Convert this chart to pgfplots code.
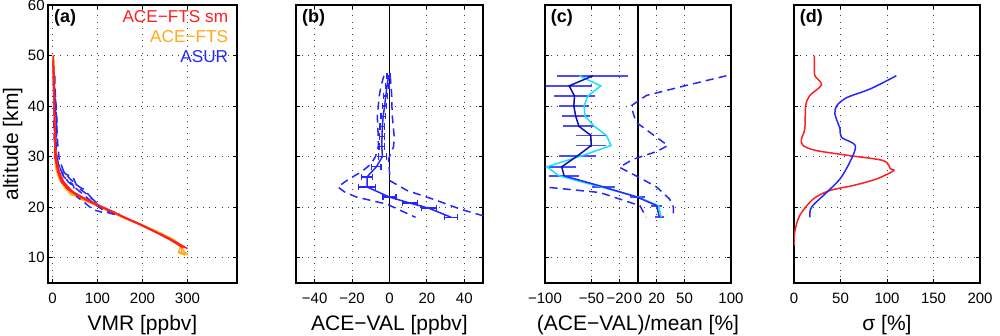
\documentclass[border=0pt]{standalone}
\usepackage{pgfplots}
\pgfplotsset{compat=1.18}
\usepackage{fontspec}
\setmainfont{Liberation Sans}
\definecolor{mred}{rgb}{1,0.12,0.12}
\definecolor{morange}{rgb}{1,0.66,0.1}
\definecolor{mblue}{rgb}{0.15,0.15,1}
\definecolor{mbar}{rgb}{0.3,0.3,1}
\definecolor{mnavy}{rgb}{0.05,0.05,0.72}
\definecolor{mcyan}{rgb}{0.1,0.88,1}
\tikzset{
  plabel/.style={anchor=north west, inner sep=0pt, font=\fontsize{9}{10}\selectfont\bfseries},
  dsh/.style={dash pattern=on 4pt off 2.6pt},
}
\pgfplotsset{
  panel/.style={
    scale only axis, height=139pt, anchor=south west,
    ymin=5, ymax=60, ytick={10,20,...,60},
    grid=major, major grid style={black!75, line width=0.45pt, dash pattern=on 0.5pt off 2.6pt},
    axis line style={line width=0.9pt},
    tick style={black, line width=0.5pt}, major tick length=2pt, tick align=inside,
    tick label style={font=\fontsize{7.5}{9}\selectfont, /pgf/number format/assume math mode=true},
    xticklabel style={anchor=base, yshift=-10.5pt},
    yticklabel style={inner sep=1.5pt},
    label style={font=\fontsize{10.5}{12}\selectfont},
    xlabel style={at={(axis description cs:0.5,-0.15)}, anchor=center},
    every axis plot/.append style={line width=0.75pt},
    unbounded coords=jump,
  },
}
\begin{document}
\begin{tikzpicture}
\useasboundingbox (0,0) rectangle (500pt,168pt);
% ---------------- (a)
\begin{axis}[panel, at={(24pt,26.5pt)}, width=94.5pt,
  xmin=-10, xmax=410, xtick={0,100,200,300},
  xlabel={VMR [ppbv]}, ylabel={altitude [km]},
  ylabel style={at={(axis description cs:-0.158,0.5)}, anchor=base}]
\addplot[morange] coordinates {(2,50) (3,46) (4,42) (6,38) (7,34) (5,30) (8,27.5) (15,25.5) (30,23.5) (55,22) (85,20.8) (120,19.5) (150,18.2) (185,17) (215,15.7) (245,14.4) (275,13.2) (290,11.5) (300,10.5)};
\addplot[morange] coordinates {(3,49) (4,45) (5,40) (6,36) (8,32) (10,29) (14,26) (25,24.3) (40,23) (65,21.5) (95,20.5) (125,19.2) (160,17.8) (195,16.7) (230,15.3) (265,13.8) (285,12.5) (280,11) (295,10.5)};
\addplot[morange] coordinates {(1,50) (3,44) (6,39) (8,35) (4,31) (12,27.8) (22,25) (40,22.5) (60,22) (90,21) (110,19.8) (145,18.5) (175,17.3) (210,16) (240,14.8) (270,13.5) (290,12) (285,11) (300,10.8)};
\addplot[mblue, dsh] coordinates {(5,46) (6,43) (8,40) (10,37) (9,34) (8,31) (12,29) (20,27) (35,25) (55,23.5) (75,22) (95,20.5) (120,19) (140,18.5)};
\addplot[mblue, dsh] coordinates {(3,45) (5,42) (7,39) (9,36) (7,33) (6,30) (15,28) (30,26.5) (45,26) (55,24) (70,23) (90,21.5) (110,20)};
\addplot[mblue, dsh] coordinates {(4,44) (7,41) (8,38) (10,35) (12,32) (15,29.5) (25,27) (40,25.5) (60,24) (70,23.5) (85,22) (100,20.5) (125,19.2) (150,18.8)};
\addplot[mblue, dsh] coordinates {(2,45) (4,41) (3,37) (4,33) (8,30) (15,28) (25,26) (45,24.5) (55,22) (70,21) (90,19.5) (110,19)};
\addplot[mred] coordinates {(2,50) (2,46) (3,42) (4,38) (5,34) (6,31) (8,29) (12,27) (20,25) (35,23.5) (55,22.3) (80,21.2) (110,20) (140,18.8) (170,17.5) (200,16.3) (230,15) (260,13.6) (290,12)};
\addplot[mred] coordinates {(3,48) (4,44) (5,40) (4,36) (6,32) (10,29) (15,27) (25,25) (45,23) (70,21.8) (100,20.5) (130,19.3) (160,18) (195,16.6) (225,15.3) (255,14) (285,12.5) (295,12)};
\addplot[mred] coordinates {(1,49) (2,45) (3,41) (5,37) (7,33) (5,30) (10,28) (18,26) (30,24) (50,22.8) (75,21.5) (105,20.2) (135,19) (165,17.8) (190,16.8) (220,15.5) (250,14.2) (280,12.8) (300,11.8)};
\node[plabel] at (axis description cs:0.03,0.985) {(a)};
\node[anchor=east, inner sep=0pt, text=mred, font=\fontsize{8.6}{9}\selectfont] at (axis description cs:0.955,0.960) {ACE−FTS sm};
\node[anchor=east, inner sep=0pt, text=morange, font=\fontsize{8.6}{9}\selectfont] at (axis description cs:0.955,0.888) {ACE−FTS};
\node[anchor=east, inner sep=0pt, text=mblue, font=\fontsize{8.6}{9}\selectfont] at (axis description cs:0.955,0.813) {ASUR};
\end{axis}
% ---------------- (b)
\begin{axis}[panel, at={(148pt,26.5pt)}, width=93.5pt,
  xmin=-50, xmax=50, xtick={-40,-20,0,20,40}, xticklabels={−40,−20,0,20,40},
  yticklabels={}, xlabel={ACE−VAL [ppbv]}]
\addplot[black, line width=0.6pt] coordinates {(0,5) (0,60)};
\addplot[mblue, dsh] coordinates {(-3,46) (-4.5,44) (-5.5,42) (-6,40) (-6.5,38) (-6.3,36) (-6,34) (-6,32) (-7.5,30) (-10,28.5) (-15,27) (-22,25.5) (-27.6,24) (-24,23) (-17.7,22) (-1.4,20.6) (13.9,18)};
\addplot[mblue, dsh] coordinates {(0.4,46) (0.8,44) (1.2,42) (1.3,40) (1.5,38) (2,36) (2.5,34) (2.2,32) (0.5,30.5) (-0.5,29.5) (0,27) (0.4,25.2) (9.4,23.3) (24,21.5) (38,19.6) (50,18.3)};
% error bars
\addplot[mblue, line width=0.7pt, mark=|, mark size=1.6pt, mark options={solid, draw=mblue, line width=0.6pt}] coordinates {
 (-1.3,46) (0.3,46) (nan,nan) (-2.3,44) (-0.3,44) (nan,nan) (-3,42) (-1,42) (nan,nan)
 (-3.8,40) (-1.4,40) (nan,nan) (-4.6,38) (-2.2,38) (nan,nan) (-5.1,36) (-2.5,36) (nan,nan)
 (-5.5,34) (-2.5,34) (nan,nan) (-5.6,32) (-2.6,32) (nan,nan) (-5.8,30) (-1.8,30) (nan,nan)
 (-9.5,28) (-4.5,28) (nan,nan) (-15,26) (-9,26) (nan,nan) (-16.5,24) (-7.5,24) (nan,nan)
 (-3.5,22) (3.5,22) (nan,nan) (7,20.8) (15,20.8) (nan,nan) (17,19.8) (25,19.8) (nan,nan)
 (29.5,18) (36.5,18)};
\addplot[mblue] coordinates {(-0.5,46) (-1.3,44) (-2,42) (-2.6,40) (-3.4,38) (-3.8,36) (-4,34) (-4.1,32) (-3.8,30) (-7,28) (-12,26) (-12,24) (0,22) (11,20.8) (21,19.8) (33,18)};
\node[plabel] at (axis description cs:0.03,0.985) {(b)};
\end{axis}
% ---------------- (c)
\begin{axis}[panel, at={(272.5pt,26.5pt)}, width=93pt,
  xmin=-100, xmax=100, xtick={-100,-50,-20,0,20,50,100}, xticklabels={−100,−50,−20,0,20,50,100},
  yticklabels={}, xlabel={(ACE−VAL)/mean [\%]}]
\addplot[black, line width=0.6pt] coordinates {(0,5) (0,60)};
\addplot[mblue, dsh] coordinates {(95,46) (50,44) (9,42.1) (-7,40.1) (-5,38.5) (-2,36.8) (15,34.5) (32,32.2) (20,31) (-5,29.5) (-20,27.9) (0,26) (20,24) (34,21.6) (38,20) (38,18)};
\addplot[mblue, dsh] coordinates {(-95,23.9) (-41,22.9) (2,20.3) (9,18)};
% error bars
\addplot[mbar, line width=0.9pt] coordinates {
 (-86.6,46) (-10.6,46) (nan,nan) (-99,44) (-49,44) (nan,nan) (-89.9,42) (-46.7,42) (nan,nan)
 (-85,40) (-53,40) (nan,nan) (-82,38) (-52,38) (nan,nan) (-80.2,36) (-46.8,36) (nan,nan)
 (-67.2,34.2) (-34.2,34.2) (nan,nan) (-66.4,32.2) (-34.4,32.2) (nan,nan) (-84.5,30.2) (-44.9,30.2) (nan,nan)
 (-97,28) (-67,28) (nan,nan) (-96,26.2) (-63,26.2) (nan,nan) (-49,24) (-25,24) (nan,nan)
 (-9,22) (7,22) (nan,nan) (14,20.3) (26,20.3) (nan,nan) (18.5,18) (27.5,18)};
\addplot[mcyan] coordinates {(-63,46) (-40,44) (-54,42) (-58,40) (-57,38) (-47,36) (-34,34.2) (-29,32.2) (-60,30.2) (-98,28) (-85,26.2) (-40,24) (0,22) (22,20.3) (25,18)};
\addplot[mnavy] coordinates {(-48.6,46) (-74,44) (-68.3,42) (-69,40) (-67,38) (-63.5,36) (-50.7,34.2) (-50.4,32.2) (-64.7,30.2) (-82,28) (-79.5,26.2)};
\addplot[mblue] coordinates {(-79.5,26.2) (-37,24) (-1,22) (20,20.3) (23,18)};
\node[plabel] at (axis description cs:0.03,0.985) {(c)};
\end{axis}
% ---------------- (d)
\begin{axis}[panel, at={(397pt,26.5pt)}, width=93pt,
  xmin=0, xmax=200, xtick={0,50,100,150,200},
  yticklabels={}, xlabel={σ [\%]}]
\addplot[mred, smooth] coordinates {(22,50) (22,47.5) (22.4,46) (29.6,44.2) (17,42.1) (12.6,40.1) (11.6,35.5) (8,33.5) (9.7,32.2) (24,31.2) (60,30.2) (96.4,29.2) (103.6,27.6) (107,27.2) (89,25.6) (64,24.3) (38.6,23.3) (20.6,21.6) (6,18.3) (0.7,15) (0,12.4)};
\addplot[mblue, smooth] coordinates {(110,46) (82,43.4) (57,41.7) (46,40.1) (44,38.4) (49.5,35.5) (51,33.8) (66,32.2) (60,28.9) (49.5,25.6) (35,22.9) (18.8,20) (17,18)};
\node[plabel] at (axis description cs:0.03,0.985) {(d)};
\end{axis}
\end{tikzpicture}
\end{document}
